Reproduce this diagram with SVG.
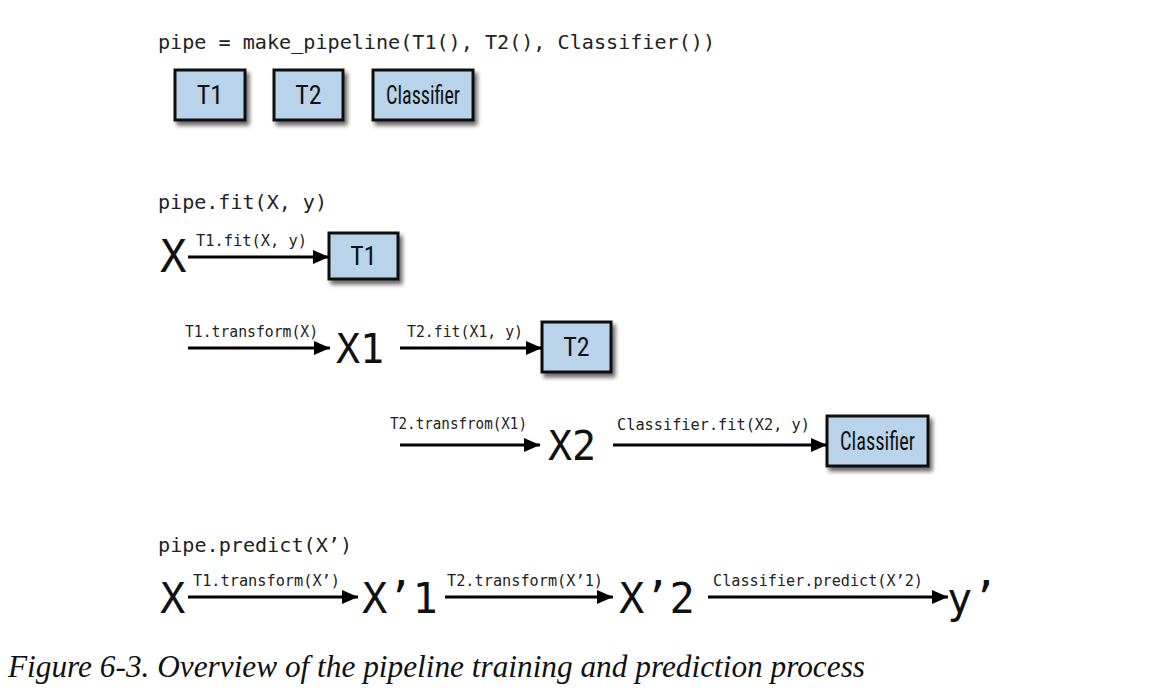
<svg xmlns="http://www.w3.org/2000/svg" width="1164" height="698" viewBox="0 0 1164 698">
<defs>
<style>
.code{font-family:"DejaVu Sans Mono","Liberation Mono",monospace;font-size:20px;fill:#222}
.lbl{font-family:"DejaVu Sans Mono","Liberation Mono",monospace;font-size:15px;fill:#222}
.big{font-family:"DejaVu Sans Mono","Liberation Mono",monospace;fill:#111}
.box{fill:#b9d3ea;stroke:#111;stroke-width:3}
.bt{font-family:"Roboto Condensed","Liberation Sans Narrow","Liberation Sans",sans-serif;font-size:26px;fill:#111;text-anchor:middle}
.ar{stroke:#000;stroke-width:2.8;fill:none}
.cap{font-family:"Liberation Serif","DejaVu Serif",serif;font-style:italic;font-size:31px;fill:#111}
</style>
<filter id="sh" x="-20%" y="-20%" width="150%" height="160%">
<feGaussianBlur in="SourceAlpha" stdDeviation="2.2"/>
<feOffset dx="3" dy="4" result="b"/>
<feComponentTransfer><feFuncA type="linear" slope="0.6"/></feComponentTransfer>
<feMerge><feMergeNode/><feMergeNode in="SourceGraphic"/></feMerge>
</filter>
<marker id="ah" viewBox="0 0 16 14" refX="16" refY="7" markerUnits="userSpaceOnUse" markerWidth="16" markerHeight="14" orient="auto">
<path d="M0,0 L16,7 L0,14 z" fill="#000"/>
</marker>
</defs>
<rect width="1164" height="698" fill="#fff"/>

<text class="code" x="158" y="49" textLength="557" lengthAdjust="spacingAndGlyphs">pipe = make_pipeline(T1(), T2(), Classifier())</text>

<g id="node-t1-def">
<rect class="box" x="175" y="70" width="70" height="50" filter="url(#sh)"/>
<text class="bt" x="210" y="104">T1</text>
</g>
<g id="node-t2-def">
<rect class="box" x="274" y="70" width="69" height="50" filter="url(#sh)"/>
<text class="bt" x="308.5" y="104">T2</text>
</g>
<g id="node-clf-def">
<rect class="box" x="373" y="70" width="100" height="50" filter="url(#sh)"/>
<text class="bt" x="423" y="104" textLength="74" lengthAdjust="spacingAndGlyphs">Classifier</text>
</g>

<text class="code" x="158" y="209" textLength="169" lengthAdjust="spacingAndGlyphs">pipe.fit(X, y)</text>

<g id="node-x-fit"><text class="big" x="160" y="272" font-size="44">X</text></g>
<g id="node-t1-fit">
<rect class="box" x="329" y="233" width="69" height="46" filter="url(#sh)"/>
<text class="bt" x="363.5" y="265">T1</text>
</g>
<g id="node-x1"><text class="big" x="336" y="363" font-size="40">X1</text></g>
<g id="node-t2-fit">
<rect class="box" x="542" y="322" width="69" height="50" filter="url(#sh)"/>
<text class="bt" x="576.5" y="356">T2</text>
</g>
<g id="node-x2"><text class="big" x="548" y="460" font-size="40">X2</text></g>
<g id="node-clf-fit">
<rect class="box" x="827" y="416" width="101" height="50" filter="url(#sh)"/>
<text class="bt" x="877.5" y="450" textLength="75" lengthAdjust="spacingAndGlyphs">Classifier</text>
</g>

<text class="code" x="158" y="552" textLength="194" lengthAdjust="spacingAndGlyphs">pipe.predict(X’)</text>

<g id="node-x-pred"><text class="big" x="160" y="613" font-size="42">X</text></g>
<g id="node-xp1"><text class="big" x="362" y="613" font-size="42">X’1</text></g>
<g id="node-xp2"><text class="big" x="619" y="613" font-size="42">X’2</text></g>
<g id="node-yp"><text class="big" x="947" y="613" font-size="42">y’</text></g>

<g id="connectors">
<line class="ar" x1="188" y1="257" x2="329" y2="257" marker-end="url(#ah)"/>
<text class="lbl" x="196" y="246" textLength="111" lengthAdjust="spacingAndGlyphs">T1.fit(X, y)</text>

<line class="ar" x1="188" y1="348" x2="330" y2="348" marker-end="url(#ah)"/>
<text class="lbl" x="185" y="337" textLength="133" lengthAdjust="spacingAndGlyphs">T1.transform(X)</text>

<line class="ar" x1="400" y1="348" x2="542" y2="348" marker-end="url(#ah)"/>
<text class="lbl" x="407" y="337" textLength="116" lengthAdjust="spacingAndGlyphs">T2.fit(X1, y)</text>

<line class="ar" x1="400" y1="445" x2="540" y2="445" marker-end="url(#ah)"/>
<text class="lbl" x="390" y="429" textLength="137" lengthAdjust="spacingAndGlyphs">T2.transfrom(X1)</text>

<line class="ar" x1="613" y1="445" x2="827" y2="445" marker-end="url(#ah)"/>
<text class="lbl" x="617" y="430" textLength="193" lengthAdjust="spacingAndGlyphs">Classifier.fit(X2, y)</text>

<line class="ar" x1="188" y1="597" x2="358" y2="597" marker-end="url(#ah)"/>
<text class="lbl" x="193" y="586" textLength="147" lengthAdjust="spacingAndGlyphs">T1.transform(X’)</text>

<line class="ar" x1="445" y1="597" x2="613" y2="597" marker-end="url(#ah)"/>
<text class="lbl" x="447" y="586" textLength="156" lengthAdjust="spacingAndGlyphs">T2.transform(X’1)</text>

<line class="ar" x1="708" y1="597" x2="948" y2="597" marker-end="url(#ah)"/>
<text class="lbl" x="713" y="586" textLength="210" lengthAdjust="spacingAndGlyphs">Classifier.predict(X’2)</text>
</g>

<text class="cap" x="8" y="677" textLength="857" lengthAdjust="spacingAndGlyphs">Figure 6-3. Overview of the pipeline training and prediction process</text>
</svg>
